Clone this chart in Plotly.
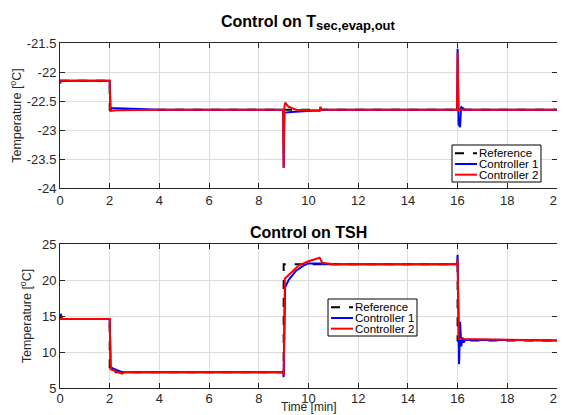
import plotly.graph_objects as go

# ---------------- data: top panel (Control on T_sec,evap,out) ----------------
ref_top_t = [0, 2, 2, 20]
ref_top_y = [-22.15, -22.15, -22.65, -22.65]

c1_top_t = [0, 0.02, 2.0, 2.03, 2.5, 4, 8.98, 9.0, 9.03, 9.06, 9.3, 10.0, 10.45, 10.48, 10.52,
            15.98, 16.0, 16.04, 16.1, 16.14, 16.2, 16.3, 20]
c1_top_y = [-22.15, -22.15, -22.15, -22.62, -22.63, -22.65, -22.65, -23.65, -22.72, -22.7, -22.69,
            -22.67, -22.66, -22.62, -22.65, -22.65, -21.6, -22.9, -22.95, -22.6, -22.62, -22.65, -22.65]

c2_top_t = [0, 0.03, 0.06, 2.0, 2.03, 2.3, 4, 8.98, 9.0, 9.03, 9.06, 9.2, 9.5, 10.0, 10.45,
            10.48, 10.52, 15.98, 16.0, 16.04, 20]
c2_top_y = [-22.2, -22.17, -22.15, -22.15, -22.67, -22.66, -22.65, -22.65, -23.65, -22.6, -22.53,
            -22.6, -22.65, -22.66, -22.67, -22.6, -22.65, -22.65, -21.67, -22.65, -22.65]

# ---------------- data: bottom panel (Control on TSH) ----------------
ref_bot_t = [0, 2, 2, 9, 9, 16, 16, 20]
ref_bot_y = [14.6, 14.6, 7.2, 7.2, 22.2, 22.2, 11.6, 11.6]

c1_bot_t = [0, 0.03, 0.08, 2.0, 2.04, 2.2, 2.5, 8.98, 9.0, 9.06, 9.2, 9.5, 9.8, 10.0, 10.5, 10.6,
            15.98, 16.0, 16.06, 16.1, 16.15, 16.2, 16.25, 16.3, 20]
c1_bot_y = [14.6, 15.3, 14.6, 14.6, 7.9, 7.6, 7.2, 7.2, 6.5, 19.0, 20.0, 21.3, 22.0, 22.3, 22.3, 22.2,
            22.2, 23.5, 8.3, 14.2, 10.8, 12.0, 11.3, 11.7, 11.6]

c2_bot_t = [0, 2.0, 2.04, 2.2, 2.5, 2.6, 8.98, 9.0, 9.05, 9.3, 9.6, 10.0, 10.45, 10.55, 11,
            15.98, 16.0, 16.05, 20]
c2_bot_y = [14.6, 14.6, 7.6, 7.4, 7.0, 7.2, 7.2, 6.8, 20.2, 21.0, 22.0, 22.6, 23.1, 22.4, 22.2,
            22.2, 22.9, 11.8, 11.6]

series_names = ["Reference", "Controller 1", "Controller 2"]
x_ticks = [0, 2, 4, 6, 8, 10, 12, 14, 16, 18, 20]
top_ticks = [-24, -23.5, -23, -22.5, -22, -21.5]
bot_ticks = [5, 10, 15, 20, 25]

BLUE = "#0000ff"
RED = "#ff0000"
BLACK = "#000000"
FONT = "Liberation Sans, Arial, sans-serif"
AXC = "#262626"
GRID = "#dcdcdc"
colors = [BLACK, BLUE, RED]
dashes = ["dash", "solid", "solid"]

# the page body adds an 8px margin; size the figure so the window (565x415) matches
OFF = 8
W, H = 565 - OFF, 415 - OFF
# target plot box in window pixels: x 60..557, y 43..388
ML, MT = 60 - OFF, 43 - OFF
MR = W - (557 - OFF)
MB = H - (388 - OFF)
PW, PH = W - ML - MR, H - MT - MB


def px_x(p):
    return (p - OFF - ML) / PW


def px_y(p):
    return (H - MB - (p - OFF)) / PH


fig = go.Figure()


def add_panel(xa, ya, data):
    for (t, y), name, c, d in zip(data, series_names, colors, dashes):
        fig.add_trace(go.Scatter(x=t, y=y, mode="lines", name=name,
                                 line=dict(color=c, width=2, dash=d),
                                 xaxis=xa, yaxis=ya, showlegend=False))


add_panel("x", "y", [(ref_top_t, ref_top_y), (c1_top_t, c1_top_y), (c2_top_t, c2_top_y)])
add_panel("x2", "y2", [(ref_bot_t, ref_bot_y), (c1_bot_t, c1_bot_y), (c2_bot_t, c2_bot_y)])

shapes = []
annotations = []


def add_legend(x0, y0, x1, y1):
    shapes.append(dict(type="rect", xref="paper", yref="paper",
                       x0=px_x(x0), x1=px_x(x1), y0=px_y(y0), y1=px_y(y1),
                       line=dict(color=BLACK, width=1), fillcolor="white", layer="above"))
    row_h = (y1 - y0 - 5) / 3.0
    for i, (name, c, d) in enumerate(zip(series_names, colors, dashes)):
        yc = y0 + 3 + row_h * (i + 0.5)
        shapes.append(dict(type="line", xref="paper", yref="paper",
                           x0=px_x(x0 + 3), x1=px_x(x0 + 25), y0=px_y(yc), y1=px_y(yc),
                           line=dict(color=c, width=2, dash=d), layer="above"))
        annotations.append(dict(text=name, xref="paper", yref="paper",
                                x=px_x(x0 + 25), y=px_y(yc), xanchor="left", yanchor="middle",
                                showarrow=False, font=dict(family=FONT, size=11.5, color=BLACK)))


add_legend(452, 145, 541, 182)
add_legend(328, 299, 417, 336)

annotations += [
    dict(text="<b>Control on T<sub><span style='font-size:13px'>sec,evap,out</span></sub></b>",
         x=0.5, y=1.0, xref="paper", yref="paper",
         yanchor="bottom", yshift=8, showarrow=False, font=dict(family=FONT, size=16, color=BLACK)),
    dict(text="<b>Control on TSH</b>", x=0.5, y=px_y(244), xref="paper", yref="paper",
         yanchor="bottom", yshift=1, showarrow=False, font=dict(family=FONT, size=16, color=BLACK)),
    dict(text="Time [min]", x=0.5, y=px_y(415), xref="paper", yref="paper",
         yanchor="bottom", showarrow=False, borderpad=0,
         font=dict(family=FONT, size=12, color="#262626")),
]

axis_common = dict(showline=True, linecolor=AXC, linewidth=1, mirror="ticks",
                   ticks="inside", ticklen=5, tickcolor=AXC, automargin=False,
                   ticklabeloverflow="allow",
                   showgrid=True, gridcolor=GRID, gridwidth=1, zeroline=False,
                   tickfont=dict(family=FONT, size=13, color="#262626"))

ytitle = dict(text="Temperature [<sup>o</sup>C]", font=dict(size=12.5, family=FONT, color="#262626"), standoff=7)

fig.update_layout(
    width=W, height=H,
    margin=dict(l=ML, r=MR, t=MT, b=MB),
    paper_bgcolor="white", plot_bgcolor="white",
    font=dict(family=FONT, color="#262626"),
    showlegend=False,
    xaxis=dict(domain=[0, 1], range=[0, 20], tickvals=x_ticks, anchor="y", **axis_common),
    yaxis=dict(domain=[px_y(188), 1], range=[-24, -21.5], tickvals=top_ticks,
               ticktext=[str(v) for v in top_ticks], anchor="x", title=ytitle, **axis_common),
    xaxis2=dict(domain=[0, 1], range=[0, 20], tickvals=x_ticks, anchor="y2",
                ticklabelstandoff=-2, **axis_common),
    yaxis2=dict(domain=[0, px_y(244)], range=[5, 25], tickvals=bot_ticks, anchor="x2",
                title=ytitle, **axis_common),
    shapes=shapes,
    annotations=annotations,
)

fig.write_html("out.html")
